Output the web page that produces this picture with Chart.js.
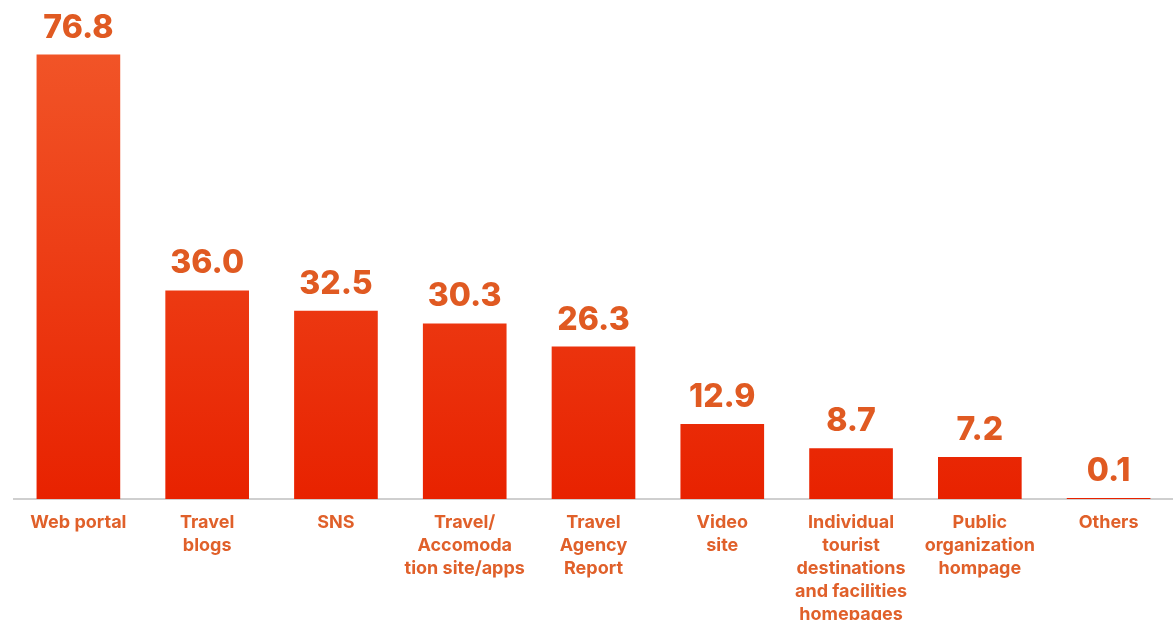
<!DOCTYPE html>
<html>
<head>
<meta charset="utf-8">
<script src="https://cdn.jsdelivr.net/npm/chart.js@4"></script>
<style>
  html, body { margin: 0; padding: 0; background: #fff; }
  #wrap { width: 1173px; height: 620px; }
</style>
</head>
<body>
<div id="wrap"><canvas id="graficaFuentes"></canvas></div>
<script>
// Fuentes de información turística (%)
var categorias = [
    'Web portal',
    ['Travel', 'blogs'],
    'SNS',
    ['Travel/', 'Accomoda', 'tion site/apps'],
    ['Travel', 'Agency', 'Report'],
    ['Video', 'site'],
    ['Individual', 'tourist', 'destinations', 'and facilities', 'homepages'],
    ['Public', 'organization', 'hompage'],
    'Others'
];
var porcentajes = [76.8, 36.0, 32.5, 30.3, 26.3, 12.9, 8.7, 7.2, 0.1];

var colorTexto = '#e0602a';

// Degradado vertical en cada barra: naranja arriba, rojo abajo
function degradadoBarra(context) {
    var chart = context.chart;
    var area = chart.chartArea;
    if (!area) return '#ee3a12';
    var el = context.element;
    var top = el && el.y !== undefined ? el.y : area.top;
    var base = el && el.base !== undefined ? el.base : area.bottom;
    if (!isFinite(top) || !isFinite(base) || top === base) return '#ee3a12';
    var g = chart.ctx.createLinearGradient(0, top, 0, base);
    g.addColorStop(0, '#f25a2c');
    g.addColorStop(1, '#e82200');
    return g;
}

// Valores encima de cada barra
var etiquetasValor = {
    id: 'etiquetasValor',
    afterDatasetsDraw: function (chart) {
        var ctx = chart.ctx;
        var meta = chart.getDatasetMeta(0);
        ctx.save();
        ctx.font = '800 32px Inter, sans-serif';
        ctx.fillStyle = '#e05a22';
        ctx.textAlign = 'center';
        ctx.textBaseline = 'bottom';
        meta.data.forEach(function (bar, i) {
            ctx.fillText(porcentajes[i].toFixed(1), bar.x, bar.y - 11);
        });
        ctx.restore();
    }
};

var ctxFuentes = document.getElementById('graficaFuentes').getContext('2d');
var graficaFuentes = new Chart(ctxFuentes, {
    type: 'bar',
    data: {
        labels: categorias,
        datasets: [{
            data: porcentajes,
            backgroundColor: degradadoBarra,
            borderWidth: 0,
            barThickness: 83
        }]
    },
    options: {
        responsive: true,
        maintainAspectRatio: false,
        animation: false,
        layout: { padding: { left: 14, right: 0, top: 0, bottom: 0 } },
        plugins: {
            legend: { display: false },
            tooltip: { enabled: false }
        },
        scales: {
            x: {
                grid: { display: true, drawOnChartArea: false, drawTicks: false },
                border: { display: true, color: '#cfcfcf', width: 2 },
                ticks: {
                    color: colorTexto,
                    font: { family: 'Inter, sans-serif', size: 18, weight: '700', lineHeight: 1.28 },
                    padding: 12,
                    maxRotation: 0,
                    autoSkip: false
                },
                afterFit: function (scale) { scale.height = 121; }
            },
            y: {
                display: false,
                beginAtZero: true,
                max: 86.3
            }
        }
    },
    plugins: [etiquetasValor]
});
</script>
</body>
</html>
